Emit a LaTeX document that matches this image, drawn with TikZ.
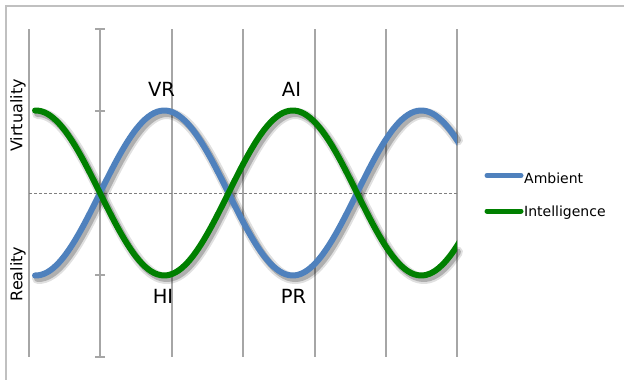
\documentclass[tikz,border=0pt]{standalone}
\usepackage{fontspec}
\setmainfont{DejaVu Sans}
\definecolor{ambblue}{HTML}{4F81BD}
\definecolor{intgreen}{HTML}{008000}
\definecolor{gridgray}{HTML}{A6A6A6}
\definecolor{framegray}{HTML}{C0C0C0}
\begin{document}
\begin{tikzpicture}[x=1pt,y=-1pt,
  framestyle/.style={draw=framegray,line width=1.2pt},
  gridline/.style={draw=gridgray,line width=1.3pt},
  midline/.style={draw=gray,line width=0.8pt,dash pattern=on 3pt off 2pt},
  curveA/.style={draw=ambblue,line width=6pt,line cap=round},
  curveB/.style={draw=intgreen,line width=6pt,line cap=round},
  shadowA/.style={draw=black,opacity=0.12,line width=11pt,line cap=round},
  shadowB/.style={draw=black,opacity=0.22,line width=7pt,line cap=round},
  peaklabel/.style={font=\fontsize{19.5}{23}\selectfont,inner sep=0pt},
  sidelabel/.style={font=\fontsize{16}{19}\selectfont,rotate=90,inner sep=0pt},
  legendtext/.style={font=\fontsize{14}{17}\selectfont,anchor=west,inner sep=0pt},
  legendline/.style={line width=5pt,line cap=round}
]
\useasboundingbox (0,0) rectangle (624,380);
% frame
\draw[framestyle] (6,380) -- (6,6) -- (624,6);
% vertical grid lines
\foreach \gx in {29,172,243,315,386,457}{
  \draw[gridline] (\gx,29) -- (\gx,357);
}
% axis with ticks
\draw[gridline] (100,29) -- (100,357);
\foreach \ty in {29,111,275,357}{
  \draw[gridline] (95,\ty) -- (105,\ty);
}
% dashed midline
\draw[midline] (29,193) -- (457,193);
% shadows
\begin{scope}[shift={(2.5,3)}]
  \draw[shadowA] plot[domain=35:455,samples=120,smooth] (\x,{193-82.5*sin((\x-100)/128.5*180)});
  \draw[shadowA] plot[domain=35:455,samples=120,smooth] (\x,{193+82.5*sin((\x-100)/128.5*180)});
  \draw[shadowB] plot[domain=35:455,samples=120,smooth] (\x,{193-82.5*sin((\x-100)/128.5*180)});
  \draw[shadowB] plot[domain=35:455,samples=120,smooth] (\x,{193+82.5*sin((\x-100)/128.5*180)});
\end{scope}
% curves
\begin{scope}
  \clip (0,0) rectangle (457,380);
  \draw[curveA] plot[domain=35:460,samples=140,smooth] (\x,{193-82.5*sin((\x-100)/128.5*180)});
  \draw[curveB] plot[domain=35:460,samples=140,smooth] (\x,{193+82.5*sin((\x-100)/128.5*180)});
\end{scope}
% labels
\node[peaklabel] (vr) at (161.5,89.5) {VR};
\node[peaklabel] (ai) at (291.5,89) {AI};
\node[peaklabel] (hi) at (163,296.5) {HI};
\node[peaklabel] (pr) at (293.5,296) {PR};
\node[sidelabel] (virt) at (18,115.5) {Virtuality};
\node[sidelabel] (real) at (18,274) {Reality};
% legend
\coordinate (la1) at (487,175.5);
\coordinate (la2) at (521,175.5);
\coordinate (lb1) at (487,211);
\coordinate (lb2) at (521,211);
\draw[legendline,ambblue] (la1) -- (la2);
\draw[legendline,intgreen] (lb1) -- (lb2);
\node[legendtext] (amb) at (524,178) {Ambient};
\node[legendtext] (intel) at (524,213) {Intelligence};
\end{tikzpicture}
\end{document}
